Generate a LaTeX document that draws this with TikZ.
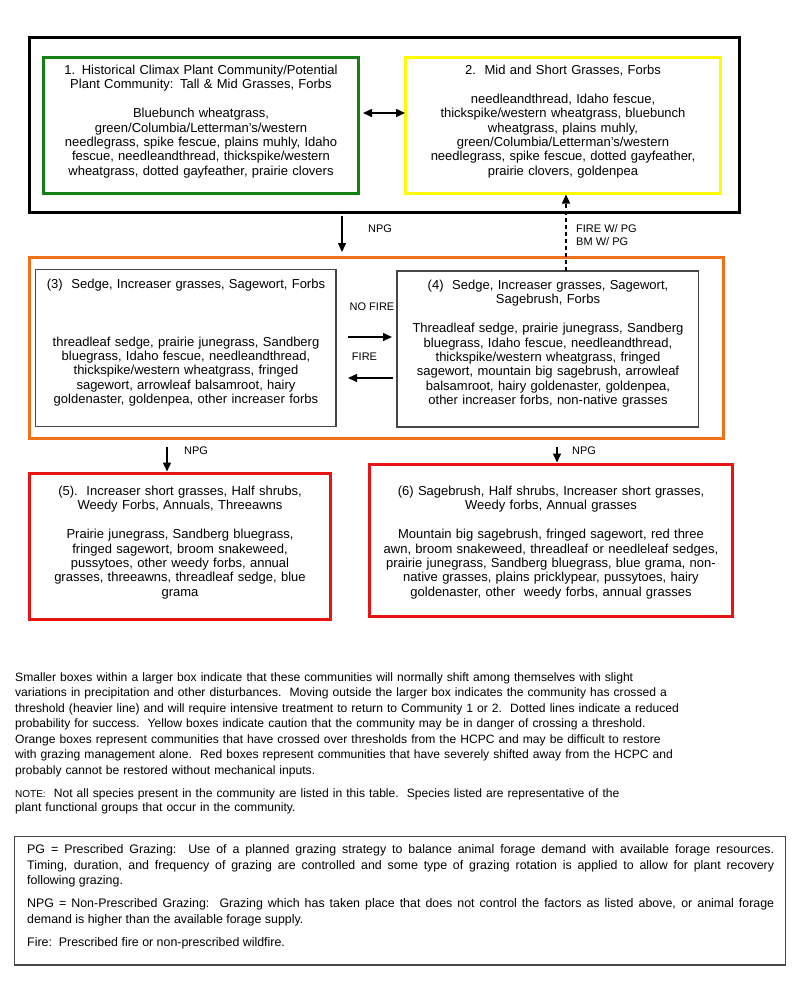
\documentclass[tikz,border=0pt]{standalone}
\usepackage{fontspec}
\setmainfont{Liberation Sans}
\usetikzlibrary{arrows.meta,calc}
\definecolor{cgreen}{RGB}{20,128,20}
\definecolor{cyellow}{RGB}{255,250,0}
\definecolor{corange}{RGB}{240,112,24}
\definecolor{cred}{RGB}{232,20,20}
\definecolor{cgray}{RGB}{70,70,70}
\begin{document}
\begin{tikzpicture}[x=1pt,y=-1pt,
  frame/.style={draw, inner sep=0pt, outer sep=0pt, anchor=north west},
  heavy/.style={line width=3pt},
  light/.style={line width=1.3pt, draw=cgray},
  btext/.style={anchor=base, text width=360pt, align=center, inner sep=0pt, font=\fontsize{13}{14.4}\selectfont},
  arr/.style={line width=1.5pt, -{Triangle[length=9pt,width=8pt]}},
  darr/.style={line width=1.5pt, {Triangle[length=9pt,width=8pt]}-{Triangle[length=9pt,width=8pt]}},
  lbl/.style={font=\fontsize{11}{13}\selectfont, inner sep=0pt},
  para/.style={anchor=base west, inner sep=0pt, text width=770pt, align=left, font=\fontsize{12.1}{15.5}\selectfont}
]
\fill[white] (0,0) rectangle (800,999);
\useasboundingbox (0,0) rectangle (800,999);

% frames
\node[frame, heavy, draw=black, minimum width=710pt, minimum height=174.5pt] (outerA) at (29.5,37.5) {};
\node[frame, heavy, draw=cgreen, minimum width=315pt, minimum height=135.5pt] (b1) at (43.5,57.5) {};
\node[frame, heavy, draw=cyellow, minimum width=315pt, minimum height=135.5pt] (b2) at (405.5,57.5) {};
\node[frame, heavy, draw=corange, minimum width=694pt, minimum height=181.5pt] (outerB) at (29.5,257) {};
\node[frame, light, minimum width=300.5pt, minimum height=157pt] (b3) at (35.5,269.5) {};
\node[frame, light, minimum width=301.5pt, minimum height=156pt] (b4) at (397,271) {};
\node[frame, heavy, draw=cred, minimum width=300.5pt, minimum height=146pt] (b5) at (29.5,473.5) {};
\node[frame, heavy, draw=cred, minimum width=363pt, minimum height=151.5pt] (b6) at (369.5,464.5) {};
\node[frame, light, minimum width=771pt, minimum height=128.5pt] (leg) at (14.5,836.5) {};

% box texts
\node[btext] (t1) at (201,74.5) {1. Historical Climax Plant Community/Potential\\
Plant Community: Tall \& Mid Grasses, Forbs\\[14.4pt]
Bluebunch wheatgrass,\\
green/Columbia/Letterman's/western\\
needlegrass, spike fescue, plains muhly, Idaho\\
fescue, needleandthread, thickspike/western\\
wheatgrass, dotted gayfeather, prairie clovers};

\node[btext] (t2) at (563,74.5) {2.\ \ Mid and Short Grasses, Forbs\\[14.4pt]
needleandthread, Idaho fescue,\\
thickspike/western wheatgrass, bluebunch\\
wheatgrass, plains muhly,\\
green/Columbia/Letterman's/western\\
needlegrass, spike fescue, dotted gayfeather,\\
prairie clovers, goldenpea};

\node[btext] (t3) at (186,288.5) {(3)\ \ Sedge, Increaser grasses, Sagewort, Forbs\\[43.2pt]
threadleaf sedge, prairie junegrass, Sandberg\\
bluegrass, Idaho fescue, needleandthread,\\
thickspike/western wheatgrass, fringed\\
sagewort, arrowleaf balsamroot, hairy\\
goldenaster, goldenpea, other increaser forbs};

\node[btext] (t4) at (548,289.5) {(4)\ \ Sedge, Increaser grasses, Sagewort,\\
Sagebrush, Forbs\\[14.4pt]
Threadleaf sedge, prairie junegrass, Sandberg\\
bluegrass, Idaho fescue, needleandthread,\\
thickspike/western wheatgrass, fringed\\
sagewort, mountain big sagebrush, arrowleaf\\
balsamroot, hairy goldenaster, goldenpea,\\
other increaser forbs, non-native grasses};

\node[btext] (t5) at (180,495.5) {(5).\ \ Increaser short grasses, Half shrubs,\\
Weedy Forbs, Annuals, Threeawns\\[14.4pt]
Prairie junegrass, Sandberg bluegrass,\\
fringed sagewort, broom snakeweed,\\
pussytoes, other weedy forbs, annual\\
grasses, threeawns, threadleaf sedge, blue\\
grama};

\node[btext] (t6) at (551,495.5) {(6) Sagebrush, Half shrubs, Increaser short grasses,\\
Weedy forbs, Annual grasses\\[14.4pt]
Mountain big sagebrush, fringed sagewort, red three\\
awn, broom snakeweed, threadleaf or needleleaf sedges,\\
prairie junegrass, Sandberg bluegrass, blue grama, non-\\
native grasses, plains pricklypear, pussytoes, hairy\\
goldenaster, other\ \ weedy forbs, annual grasses};

% helper coordinates
\coordinate (cN) at (342,0);
\coordinate (cF) at (566,0);
\coordinate (cNF) at (0,337);
\coordinate (cFI) at (0,378);
\coordinate (cD) at (0,113);
\coordinate (cL) at (167,0);
\coordinate (cR) at (557,0);

% connectors
\draw[darr, shorten <=4.5pt, shorten >=0.5pt] (b1.east |- cD) -- (b2.west |- cD);
\draw[arr, shorten <=3.5pt, shorten >=5pt] (outerA.south -| cN) -- (outerB.north -| cN);
\draw[arr, dash pattern=on 4pt off 3pt, shorten >=1.5pt] (b4.north -| cF) -- (b2.south -| cF);
\draw[arr, shorten <=12pt, shorten >=5pt] (b3.east |- cNF) -- (b4.west |- cNF);
\draw[arr, shorten <=4pt, shorten >=12pt] (b4.west |- cFI) -- (b3.east |- cFI);
\draw[arr, shorten <=8.5pt, shorten >=2pt] (outerB.south -| cL) -- (b5.north -| cL);
\draw[arr, shorten <=8.5pt, shorten >=2pt] (outerB.south -| cR) -- (b6.north -| cR);

% labels
\node[lbl] (lnpg1) at (380,229) {NPG};
\node[lbl, anchor=west, align=left] (lfire) at (576,235.5) {FIRE W/ PG\\BM W/ PG};
\node[lbl] (lnofire) at (372,307) {NO FIRE};
\node[lbl] (lfire2) at (364.5,357) {FIRE};
\node[lbl] (lnpg2) at (196,451) {NPG};
\node[lbl] (lnpg3) at (584,451) {NPG};

% explanatory text
\node[para] (expl) at (15,681.3) {Smaller boxes within a larger box indicate that these communities will normally shift among themselves with slight\\
variations in precipitation and other disturbances.\ \ Moving outside the larger box indicates the community has crossed a\\
threshold (heavier line) and will require intensive treatment to return to Community 1 or 2.\ \ Dotted lines indicate a reduced\\
probability for success.\ \ Yellow boxes indicate caution that the community may be in danger of crossing a threshold.\\
Orange boxes represent communities that have crossed over thresholds from the HCPC and may be difficult to restore\\
with grazing management alone.\ \ Red boxes represent communities that have severely shifted away from the HCPC and\\
probably cannot be restored without mechanical inputs.};

\node[para, font=\fontsize{12.1}{14.5}\selectfont] (note) at (15,797.3) {{\fontsize{10}{14.5}\selectfont NOTE:}\ \ Not all species present in the community are listed in this table.\ \ Species listed are representative of the\\
plant functional groups that occur in the community.};

% legend
\node[anchor=base west, inner sep=0pt, text width=747pt, align=justify, font=\fontsize{12.4}{15.5}\selectfont] (legtext) at (27,853.5) {PG = Prescribed Grazing:\ \ Use of a planned grazing strategy to balance animal forage demand with available forage resources.\linebreak
Timing, duration, and frequency of grazing are controlled and some type of grazing rotation is applied to allow for plant recovery\linebreak
following grazing.\\[7.5pt]
NPG = Non-Prescribed Grazing:\ \ Grazing which has taken place that does not control the factors as listed above, or animal forage\linebreak
demand is higher than the available forage supply.\\[7.5pt]
Fire:\ \ Prescribed fire or non-prescribed wildfire.};
\end{tikzpicture}
\end{document}
